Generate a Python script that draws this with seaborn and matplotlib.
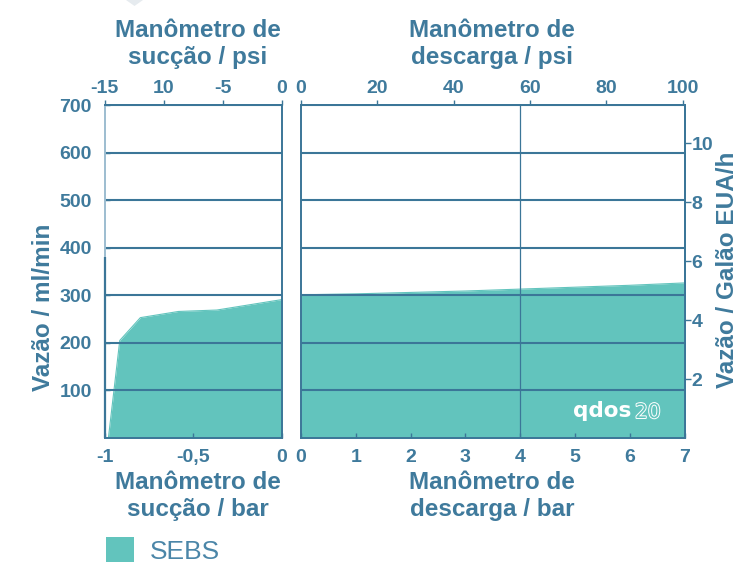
import numpy as np
import pandas as pd
import matplotlib
matplotlib.use("Agg")
import matplotlib.pyplot as plt
import matplotlib.patheffects as pe
from matplotlib.patches import Patch, Polygon
import seaborn as sns

# ---------------- data ----------------
suction_bar = [-0.978, -0.914, -0.798, -0.583, -0.367, 0.0]
suction_flow = [0, 205, 253, 266, 269, 291]
discharge_bar = [0, 1, 2, 3, 4, 5, 6, 7]
discharge_flow = [301, 303, 306, 309, 313, 317, 321, 326]
flow_ticks = [100, 200, 300, 400, 500, 600, 700]
suction_bar_ticks = [-1, -0.5, 0]
suction_bar_labels = ["-1", "-0,5", "0"]
suction_psi_ticks = [-15, -10, -5, 0]
suction_psi_labels = ["-15", "10", "-5", "0"]
discharge_bar_ticks = [0, 1, 2, 3, 4, 5, 6, 7]
discharge_psi_ticks = [0, 20, 40, 60, 80, 100]
gph_ticks = [2, 4, 6, 8, 10]
series_name = "SEBS"

sns.set_theme(style="white")
plt.rcParams["font.family"] = ["Liberation Sans", "DejaVu Sans"]
plt.rcParams["font.weight"] = "bold"

TEXT = "#3f7a9c"
GRID = "#3b7698"
FILL = "#62c4bd"
W, H = 737, 564
TICK_FS = 14

fig = plt.figure(figsize=(W / 100, H / 100), dpi=100)
axL = fig.add_axes([104.5 / W, 1 - 438 / H, 177.5 / W, 333 / H])
axR = fig.add_axes([301 / W, 1 - 438 / H, 383.5 / W, 333 / H])

dfL = pd.DataFrame({"bar": suction_bar, "flow": suction_flow})
dfR = pd.DataFrame({"bar": discharge_bar, "flow": discharge_flow})

for ax, df in ((axL, dfL), (axR, dfR)):
    ax.fill_between(df["bar"], 0, df["flow"], color=FILL, lw=0, zorder=1)
    sns.lineplot(data=df, x="bar", y="flow", ax=ax, color=FILL, lw=0.8, zorder=1.2)
    ax.set_ylim(0, 700)
    ax.set_yticks(flow_ticks)
    ax.set_axisbelow(False)
    ax.yaxis.grid(True, color=GRID, lw=1.5, zorder=2.5)
    ax.xaxis.grid(False)
    ax.set_xlabel("")
    ax.set_ylabel("")
    for s in ax.spines.values():
        s.set_color(GRID)
        s.set_linewidth(1.4)
        s.set_zorder(4)
    ax.tick_params(axis="x", which="both", bottom=True, top=False, direction="in",
                   length=3.5, width=1, color=GRID, labelsize=TICK_FS,
                   labelcolor=TEXT, pad=8)

# left panel
axL.set_xlim(-1, 0)
axL.set_xticks(suction_bar_ticks)
axL.set_xticklabels(suction_bar_labels)
axL.tick_params(axis="y", left=True, right=False, direction="in", length=3.6,
                width=1, color=GRID, labelsize=TICK_FS, labelcolor=TEXT, pad=9)
axL.spines["left"].set_color("#9dbdd0")
axL.vlines(-1, 0, 381, color=GRID, lw=1.6, zorder=5, clip_on=False)

# right panel
axR.set_xlim(0, 7)
axR.set_xticks(discharge_bar_ticks)
axR.tick_params(axis="y", left=False, right=False, labelleft=False)
axR.axvline(4, color=GRID, lw=0.9, zorder=2.6)

# top psi axes
secL = axL.secondary_xaxis("top", functions=(lambda x: x * 15, lambda x: x / 15))
secL.set_xticks(suction_psi_ticks)
secL.set_xticklabels(suction_psi_labels)
secR = axR.secondary_xaxis("top", functions=(lambda x: x * 14.36, lambda x: x / 14.36))
secR.set_xticks(discharge_psi_ticks)
for sec in (secL, secR):
    sec.tick_params(axis="x", direction="out", length=3.6, width=1, color=GRID,
                    labelsize=TICK_FS, labelcolor=TEXT, pad=2.5)
    for s in sec.spines.values():
        s.set_color(GRID)
        s.set_linewidth(1.4)

# right gal/h axis
secY = axR.secondary_yaxis("right", functions=(lambda y: y / 62.0, lambda y: y * 62.0))
secY.set_yticks(gph_ticks)
secY.tick_params(axis="y", direction="out", length=4, width=1, color=GRID,
                 labelsize=TICK_FS, labelcolor=TEXT, pad=1)
for s in secY.spines.values():
    s.set_color(GRID)
    s.set_linewidth(1.4)

# titles / axis labels
tkw = dict(color=TEXT, fontsize=17.5, fontweight="bold", ha="center", va="top",
           linespacing=1.2, multialignment="center")
fig.text(198 / W, 1 - 19 / H, "Manômetro de\nsucção / psi", **tkw)
fig.text(492 / W, 1 - 19 / H, "Manômetro de\ndescarga / psi", **tkw)
fig.text(198 / W, 1 - 471 / H, "Manômetro de\nsucção / bar", **tkw)
fig.text(492 / W, 1 - 471 / H, "Manômetro de\ndescarga / bar", **tkw)
fig.text(44 / W, 1 - 307 / H, "Vazão / ml/min", color=TEXT, fontsize=17.5,
         fontweight="bold", rotation=90, ha="center", va="center")
fig.text(727 / W, 1 - 270 / H, "Vazão / Galão EUA/h", color=TEXT, fontsize=17.5,
         fontweight="bold", rotation=90, ha="center", va="center")

# logo
fig.text(573 / W, 1 - 417 / H, "qdos", color="white", fontsize=15.5,
         family="DejaVu Sans", fontweight="bold", ha="left", va="baseline", zorder=10)
fig.text(635 / W, 1 - 418 / H, "20", color=FILL, fontsize=14.5,
         family="DejaVu Sans", fontweight="normal", ha="left", va="baseline", zorder=10,
         path_effects=[pe.withStroke(linewidth=1.4, foreground="white")])

# small faint triangle at the top
fig.add_artist(Polygon([[126 / W, 1.0], [143 / W, 1.0], [134.5 / W, 1 - 6 / H]],
                       closed=True, transform=fig.transFigure,
                       facecolor="#e6ebef", edgecolor="none"))

# legend
fig.legend(handles=[Patch(facecolor=FILL, edgecolor="none", label=series_name)],
           loc="upper left", bbox_to_anchor=(106 / W, 1 - 537 / H),
           frameon=False, borderpad=0, borderaxespad=0, handlelength=1.06,
           handleheight=1.1, handletextpad=0.6,
           prop={"family": "Liberation Sans", "weight": "normal", "size": 19},
           labelcolor="#4b86a8")

fig.savefig("out.png", dpi=100)
